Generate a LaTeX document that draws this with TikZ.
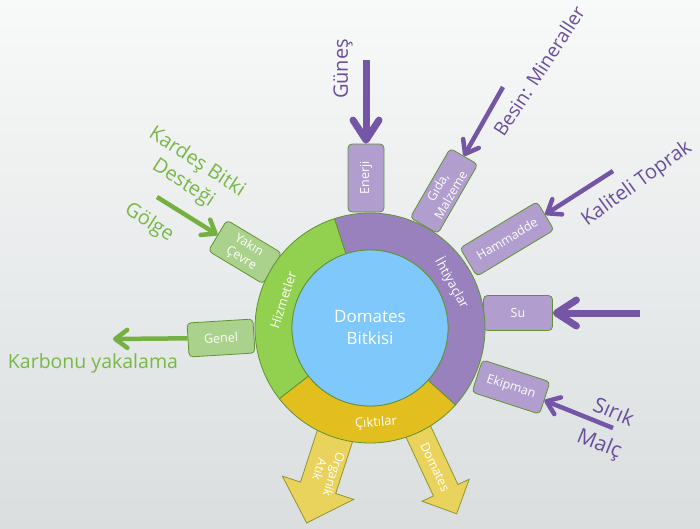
\documentclass[tikz,border=0pt]{standalone}
\usepackage{fontspec}
\setmainfont{Open Sans}
\usetikzlibrary{arrows.meta}

\definecolor{bgtop}{RGB}{248,249,249}
\definecolor{bgbot}{RGB}{218,222,223}
\definecolor{kalp}{RGB}{127,200,252}
\definecolor{ihtiyac}{RGB}{153,129,189}
\definecolor{hizmet}{RGB}{146,208,80}
\definecolor{cikti}{RGB}{226,190,30}
\definecolor{kenar}{RGB}{98,146,52}
\definecolor{morfill}{RGB}{177,157,206}
\definecolor{yesilfill}{RGB}{170,210,140}
\definecolor{sarifill}{RGB}{234,211,92}
\definecolor{sarikenar}{RGB}{140,150,50}
\definecolor{morkoyu}{RGB}{106,78,156}
\definecolor{morok}{RGB}{116,85,166}
\definecolor{yesilkoyu}{RGB}{122,182,72}
\definecolor{yesilok}{RGB}{117,176,67}

\begin{document}
\begin{tikzpicture}
        [x=1pt,y=1pt,
         kutu/.style={rectangle,rounded corners=4pt,draw=kenar,line width=0.8pt,text=white,align=center,inner sep=1pt,font=\fontsize{12.5}{15}\selectfont},
         morkutu/.style={kutu,fill=morfill},
         yesilkutu/.style={kutu,fill=yesilfill},
         halka/.style={draw=kenar,line width=0.8pt},
         halkayazi/.style={text=white,font=\fontsize{13}{15}\selectfont},
         moryazi/.style={text=morkoyu,align=center,font=\fontsize{20}{25}\selectfont},
         yesilyazi/.style={text=yesilkoyu,align=center,font=\fontsize{20}{25}\selectfont},
         kalinok/.style={line width=7pt,morok,-{Straight Barb[round,length=20pt,width=26pt]}},
         inceok/.style={line width=4.5pt,-{Straight Barb[round,length=12pt,width=18pt]}},
         sariok/.style={fill=sarifill,draw=sarikenar,line width=0.8pt}]
        \useasboundingbox (0,0) rectangle (700,-528);
        \shade[top color=bgtop,bottom color=bgbot] (0,0) rectangle (700,-528);
        \coordinate (c) at (370,-328);

        % Ciktilar oklari
        \begin{scope}[shift={(c)},rotate=-108]
        \draw[sariok] (95,-18.5) -- (168,-18.5) -- (168,-37.5) -- (205,0) -- (168,37.5) -- (168,18.5) -- (95,18.5) -- cycle;
        \end{scope}
        \begin{scope}[shift={(c)},rotate=-65]
        \draw[sariok] (95,-13.5) -- (179,-13.5) -- (179,-26) -- (205,0) -- (179,26) -- (179,13.5) -- (95,13.5) -- cycle;
        \end{scope}
        \node[halkayazi,rotate=-108,align=center,font=\fontsize{12.5}{15}\selectfont] (organik) at (327,-472) {Organik\\Atık};
        \node[halkayazi,rotate=-65,font=\fontsize{12.5}{15}\selectfont] (domatesok) at (435,-467) {Domates};

        % Ihtiyaclar
        \node[morkutu,rotate=90,minimum width=68pt,minimum height=36pt]  (enerji)   at (366,-178) {Enerji};
        \node[morkutu,rotate=60,minimum width=80pt,minimum height=32pt]  (gida)     at (444,-191) {Gıda,\\Malzeme};
        \node[morkutu,rotate=31,minimum width=90pt,minimum height=33pt]  (hammadde) at (507,-239) {Hammadde};
        \node[morkutu,minimum width=69pt,minimum height=35pt]            (su)       at (518,-313) {Su};
        \node[morkutu,rotate=-18,minimum width=71pt,minimum height=34pt] (ekipman)  at (511,-387) {Ekipman};

        % Hizmetler
        \node[yesilkutu,rotate=-31,minimum width=64pt,minimum height=36pt] (yakin) at (245,-252) {Yakın\\Çevre};
        \node[yesilkutu,rotate=3.5,minimum width=66pt,minimum height=34pt] (genel) at (221,-338) {Genel};

        % halka
        \filldraw[halka,fill=ihtiyac] ([shift={(108:115)}]c) arc[start angle=108,end angle=-42,radius=115]
                -- ([shift={(-42:78)}]c) arc[start angle=-42,end angle=108,radius=78] -- cycle;
        \filldraw[halka,fill=hizmet] ([shift={(108:115)}]c) arc[start angle=108,end angle=218,radius=115]
                -- ([shift={(218:78)}]c) arc[start angle=218,end angle=108,radius=78] -- cycle;
        \filldraw[halka,fill=cikti] ([shift={(218:115)}]c) arc[start angle=218,end angle=318,radius=115]
                -- ([shift={(318:78)}]c) arc[start angle=318,end angle=218,radius=78] -- cycle;
        \node[circle,fill=kalp,draw=kenar,line width=0.8pt,minimum size=156pt,text=white,align=center,
              font=\fontsize{17}{22}\selectfont] (bitki) at (c) {Domates\\Bitkisi};

        \node[halkayazi,rotate=72]  (hizmetler)  at (283,-300) {Hizmetler};
        \node[halkayazi,rotate=-61] (ihtiyaclar) at (452,-283) {İhtiyaçlar};
        \node[halkayazi,rotate=4]   (ciktilar)   at (376,-423) {Çıktılar};

        % girdiler
        \coordinate (gunesuc)  at (366,-60);
        \coordinate (besinuc)  at (503,-87);
        \coordinate (toprakuc) at (613,-171);
        \coordinate (suuc)     at (640,-313);
        \coordinate (sirikuc)  at (613,-428);
        \coordinate (kardesuc) at (157,-197);
        \coordinate (karbonuc) at (113,-339);

        \draw[kalinok] (gunesuc) -- (enerji);
        \draw[kalinok] (suuc) -- (su);
        \draw[inceok,morok] (besinuc) -- (gida);
        \draw[inceok,morok] (toprakuc) -- (hammadde);
        \draw[inceok,morok] (sirikuc) -- (ekipman);
        \draw[inceok,yesilok] (kardesuc) -- (yakin);
        \draw[inceok,yesilok] (genel) -- (karbonuc);

        \node[moryazi,rotate=90]  (gunes)  at (343,-69)  {Güneş};
        \node[moryazi,rotate=57,font=\fontsize{19}{24}\selectfont] (besin) at (539,-71) {Besin: Mineraller};
        \node[moryazi,rotate=36]  (toprak) at (637,-184) {Kaliteli Toprak};
        \node[moryazi,rotate=-23,font=\fontsize{21}{25}\selectfont] (sirik) at (614,-411) {Sırık};
        \node[moryazi,rotate=-22,font=\fontsize{21}{25}\selectfont] (malc)  at (599,-445) {Malç};

        \node[yesilyazi,rotate=-33] (kardes) at (190,-173) {Kardeş Bitki\\Desteği};
        \node[yesilyazi,rotate=-33] (golge)  at (149,-223) {Gölge};
        \node[yesilyazi,font=\fontsize{19.5}{24}\selectfont] (karbon) at (93,-363) {Karbonu yakalama};
    \end{tikzpicture}
\end{document}
